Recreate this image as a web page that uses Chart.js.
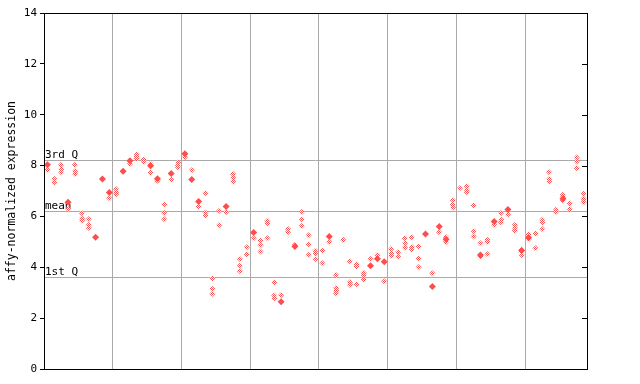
<!DOCTYPE html>
<html><head><meta charset="utf-8">
<script src="https://cdn.jsdelivr.net/npm/chart.js@4/dist/chart.umd.min.js"></script>
<style>html,body{margin:0;padding:0;background:#fff}#c{display:block}</style>
</head><body><canvas id="c" width="640" height="384"></canvas>
<script>
// ---- data ----
const yTickValues = [0, 2, 4, 6, 8, 10, 12, 14];
const refValues = [8.23, 6.23, 3.63];
const refLabels = ['3rd Q', 'mean', '1st Q'];
const groupBreaks = [10.5, 20.5, 30.5, 40.5, 50.5, 60.5, 70.5];
// replicate values per sample (checkered markers)
const hatchedValues = [
  [7.83], [7.47, 7.34], [8.03, 7.86, 7.74], [6.29], [8.03, 7.78, 7.68],
  [6.13, 5.92, 5.84], [5.89, 5.66, 5.55], [], [], [6.71],
  [7.07, 6.96, 6.88], [], [8.06], [8.45, 8.36, 8.28], [8.23, 8.14],
  [8.07, 7.73], [7.40], [6.48, 6.13, 5.89], [7.45], [8.12, 8.0, 7.93],
  [8.33], [7.82], [6.39], [6.92, 6.15, 6.05], [3.57, 3.15, 2.96],
  [6.22, 5.66], [6.17], [7.67, 7.53, 7.37], [4.33, 4.06, 3.85], [4.79, 4.51],
  [5.14], [5.04, 4.87, 4.62], [5.83, 5.73, 5.14], [3.41, 2.89, 2.78], [2.91],
  [5.51, 5.39], [4.88], [6.17, 5.89, 5.62], [5.26, 4.91, 4.48], [4.65, 4.55, 4.33],
  [4.65, 4.16], [4.99], [3.69, 3.19, 3.08, 2.98], [5.08], [4.24, 3.41, 3.31],
  [4.12, 4.03, 3.33], [3.79, 3.70, 3.53], [4.33], [4.48], [3.45],
  [4.72, 4.55, 4.45], [4.59, 4.42], [5.14, 4.95, 4.78], [5.18, 4.80, 4.71], [4.83, 4.36, 4.0],
  [], [3.77], [5.38], [5.18, 5.0], [6.64, 6.47, 6.35],
  [7.11], [7.20, 7.05, 6.96], [6.44, 5.43, 5.21], [4.95, 4.43], [5.07, 4.99, 4.51],
  [5.66], [6.13, 5.87, 5.76], [6.08], [5.66, 5.55, 5.44], [4.70, 4.61, 4.48],
  [5.29, 5.21, 5.10], [5.34, 4.75], [5.87, 5.77, 5.50], [7.74, 7.47, 7.37], [6.26, 6.18],
  [6.85, 6.76, 6.63], [6.52, 6.29], [8.32, 8.16, 7.90], [6.89, 6.70, 6.56]
];
// highlighted (filled) marker per sample, null when absent
const solidValues = [
  8.03, null, null, 6.56, null, null, null, 5.18, 7.47, 6.94,
  null, 7.78, 8.19, null, null, 7.99, 7.48, null, 7.69, null,
  8.46, 7.45, 6.59, null, null, null, 6.39, null, null, null,
  5.37, null, null, null, 2.64, null, 4.82, null, null, null,
  null, 5.21, null, null, null, null, null, 4.06, 4.34, 4.22,
  null, null, null, null, null, 5.31, 3.24, 5.60, 5.10, null,
  null, null, null, 4.48, null, 5.80, null, 6.27, null, 4.66,
  5.16, null, null, null, null, 6.70, null, null, null
];

// ---- build ----
const RED = '#ff4d4d';
const pc = document.createElement('canvas'); pc.width = 2; pc.height = 2;
const pctx = pc.getContext('2d');
pctx.fillStyle = '#ffffff'; pctx.fillRect(0, 0, 2, 2);
pctx.fillStyle = RED; pctx.fillRect(0, 0, 1, 1); pctx.fillRect(1, 1, 1, 1);
const canvas = document.getElementById('c');
const ctx = canvas.getContext('2d');
const checker = ctx.createPattern(pc, 'repeat');

const hatchedPts = [];
hatchedValues.forEach((arr, i) => arr.forEach(v => hatchedPts.push({x: i + 1, y: v})));
const solidPts = [];
solidValues.forEach((v, i) => { if (v !== null) solidPts.push({x: i + 1, y: v}); });
const nSamples = hatchedValues.length;

const MONO = 'DejaVu Sans Mono';
const decor = {
  id: 'decor',
  beforeDatasetsDraw(chart) {
    const {ctx, chartArea: a, scales: {y}} = chart;
    ctx.save();
    ctx.strokeStyle = '#aaaaaa'; ctx.lineWidth = 1;
    ctx.font = '11px "' + MONO + '"'; ctx.fillStyle = '#000';
    ctx.textAlign = 'left'; ctx.textBaseline = 'bottom';
    refValues.forEach((v, i) => {
      const py = Math.round(y.getPixelForValue(v)) + 0.5;
      ctx.beginPath(); ctx.moveTo(a.left, py); ctx.lineTo(a.right, py); ctx.stroke();
      ctx.fillText(refLabels[i], a.left + 1, py + 0.5);
    });
    ctx.restore();
  },
  afterDraw(chart) {
    const {ctx, chartArea: a, scales: {y}} = chart;
    ctx.save();
    ctx.strokeStyle = '#000'; ctx.lineWidth = 1;
    ctx.strokeRect(Math.round(a.left) + 0.5, Math.round(a.top) + 0.5, Math.round(a.right - a.left), Math.round(a.bottom - a.top));
    yTickValues.forEach(v => {
      const py = Math.round(y.getPixelForValue(v)) + 0.5;
      ctx.beginPath(); ctx.moveTo(a.right - 5, py); ctx.lineTo(a.right, py); ctx.stroke();
    });
    ctx.restore();
  }
};

new Chart(ctx, {
  type: 'scatter',
  data: {
    datasets: [
      {data: solidPts, pointStyle: 'rectRot', pointRadius: 3.5, backgroundColor: RED, borderWidth: 0, pointHoverRadius: 3.5},
      {data: hatchedPts, pointStyle: 'rectRot', pointRadius: 3, backgroundColor: checker, borderColor: RED, borderWidth: 0, pointHoverRadius: 3}
    ]
  },
  plugins: [decor],
  options: {
    responsive: false, animation: false,
    layout: {padding: {left: 0, right: 53, top: 13, bottom: 0}},
    plugins: {legend: {display: false}, tooltip: {enabled: false}},
    scales: {
      x: {
        type: 'linear', min: 0.5, max: nSamples + 0.5,
        ticks: {display: false},
        grid: {color: '#aaaaaa', drawTicks: false},
        border: {color: '#000'},
        afterBuildTicks(s) { s.ticks = groupBreaks.map(v => ({value: v})); },
        afterFit(s) { s.height = 15; }
      },
      y: {
        min: 0, max: 14,
        ticks: {stepSize: 2, color: '#000', font: {family: MONO, size: 11}, padding: 3},
        grid: {drawOnChartArea: false, drawTicks: true, tickLength: 4, color: '#000'},
        border: {color: '#000'},
        title: {display: true, text: 'affy-normalized expression', color: '#000', font: {family: MONO, size: 11.5}, padding: {top: 5, bottom: 0}},
        afterFit(s) { s.width = 44; }
      }
    }
  }
});
</script>
</body></html>
